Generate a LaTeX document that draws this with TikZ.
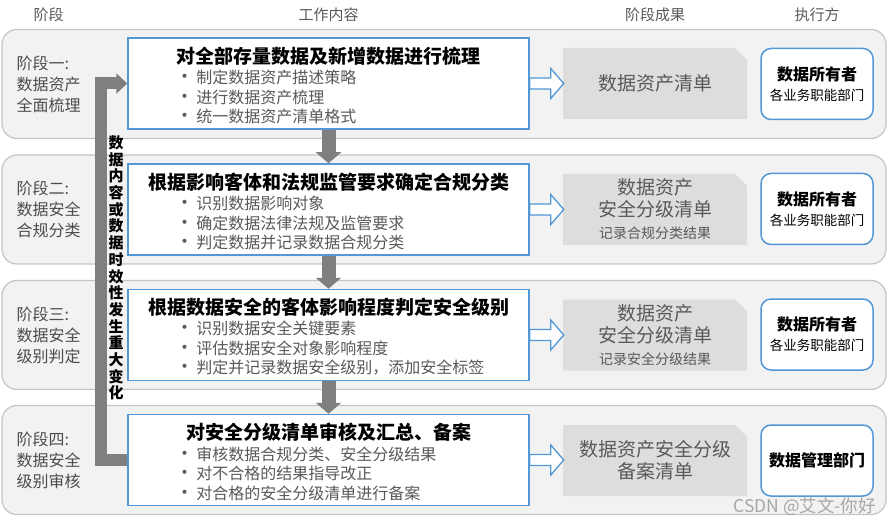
\documentclass[tikz,border=0pt]{standalone}
\usepackage{fontspec}
\setmainfont{Noto Sans CJK SC}
\usetikzlibrary{arrows.meta,calc}
\definecolor{bandfill}{HTML}{F2F2F2}
\definecolor{bandline}{HTML}{C4C4C4}
\definecolor{boxblue}{HTML}{5297D6}
\definecolor{resfill}{HTML}{DDDDDD}
\definecolor{txtgray}{HTML}{595959}
\definecolor{arrgray}{HTML}{7F7F7F}
\newcommand{\itemdot}{\makebox[21pt][l]{\fontsize{19}{19.5}\selectfont•}}
\begin{document}
\begin{tikzpicture}[x=1pt,y=-1pt,
  band/.style={draw=bandline, line width=1.2pt, fill=bandfill, rounded corners=15pt,
    minimum width=884pt, minimum height=109pt, inner sep=0pt},
  workbox/.style={draw=boxblue, line width=1.5pt, fill=white,
    minimum width=401pt, minimum height=91pt, inner sep=0pt},
  resbox/.style={minimum width=184pt, minimum height=71pt, inner sep=0pt, align=center,
    text=txtgray, font=\fontsize{19}{22}\selectfont,
    path picture={\fill[resfill] (path picture bounding box.south west)
      -- (path picture bounding box.north west)
      -- ([xshift=-12pt]path picture bounding box.north east)
      -- ([yshift=-12pt]path picture bounding box.north east)
      -- (path picture bounding box.south east) -- cycle;}},
  execbox/.style={draw=boxblue, line width=1.5pt, fill=white, rounded corners=10pt,
    minimum width=112pt, minimum height=71pt, inner sep=0pt, align=center,
    font=\fontsize{16}{20}\selectfont},
  head/.style={text=txtgray, font=\fontsize{15}{18}\selectfont},
  stage/.style={anchor=west, align=left, inner sep=0pt, text=black!70,
    font=\fontsize{16}{21}\selectfont},
  title/.style={font=\fontsize{19}{22}\selectfont\bfseries, inner sep=0pt},
  bullets/.style={anchor=west, align=left, inner sep=0pt, text=txtgray,
    font=\fontsize{16}{19.5}\selectfont},
  hollow/.style={draw=boxblue, line width=1.3pt, fill=white, line join=miter},
  down/.style={draw=arrgray, line width=14pt, -{Triangle[width=25pt,length=11pt]}},
  fback/.style={draw=arrgray, line width=12pt, -{Triangle[width=20pt,length=11pt]}},
  vtext/.style={align=center, inner sep=0pt, font=\fontsize{15}{16.7}\selectfont\bfseries},
  wmark/.style={anchor=east, inner sep=0pt, text=black!35, font=\fontsize{17.5}{20}\selectfont}]
\useasboundingbox (0,0) rectangle (890,526);
% row bands
\node[band] (b1) at (444,84) {};
\node[band] (b2) at (444,209.5) {};
\node[band] (b3) at (444,335) {};
\node[band] (b4) at (444,460) {};
% stage labels
\node[stage] (s1) at ($(b1.west)+(15,0)$) {阶段一:\\数据资产\\全面梳理};
\node[stage] (s2) at ($(b2.west)+(15,0)$) {阶段二:\\数据安全\\合规分类};
\node[stage] (s3) at ($(b3.west)+(15,0)$) {阶段三:\\数据安全\\级别判定};
\node[stage] (s4) at ($(b4.west)+(15,0)$) {阶段四:\\数据安全\\级别审核};
% work content
\node[workbox] (w1) at (328.5,83.5) {};
\node[workbox] (w2) at (328.5,209.5) {};
\node[workbox] (w3) at (328.5,335) {};
\node[workbox] (w4) at (328.5,460) {};
\node[title] (t1) at ($(w1.center)+(0,-27.5)$) {对全部存量数据及新增数据进行梳理};
\node[title] (t2) at ($(w2.center)+(0,-27.5)$) {根据影响客体和法规监管要求确定合规分类};
\node[title] (t3) at ($(w3.center)+(0,-27.5)$) {根据数据安全的客体影响程度判定安全级别};
\node[title] (t4) at ($(w4.center)+(0,-27.5)$) {对安全分级清单审核及汇总、备案};
\node[bullets] (l1) at ($(w1.west)+(48,13.5)$) {\itemdot 制定数据资产描述策略\\\itemdot 进行数据资产梳理\\\itemdot 统一数据资产清单格式};
\node[bullets] (l2) at ($(w2.west)+(48,13.5)$) {\itemdot 识别数据影响对象\\\itemdot 确定数据法律法规及监管要求\\\itemdot 判定数据并记录数据合规分类};
\node[bullets] (l3) at ($(w3.west)+(48,13.5)$) {\itemdot 识别数据安全关键要素\\\itemdot 评估数据安全对象影响程度\\\itemdot 判定并记录数据安全级别，添加安全标签};
\node[bullets] (l4) at ($(w4.west)+(48,13.5)$) {\itemdot 审核数据合规分类、安全分级结果\\\itemdot 对不合格的结果指导改正\\\itemdot 对合格的安全分级清单进行备案};
% stage results
\node[resbox] (r1) at (655,83.5) {数据资产清单};
\node[resbox] (r2) at (655,209.5) {数据资产\\安全分级清单\\{\fontsize{14}{22}\selectfont 记录合规分类结果}};
\node[resbox] (r3) at (655,335) {数据资产\\安全分级清单\\{\fontsize{14}{22}\selectfont 记录安全分级结果}};
\node[resbox] (r4) at (655,460.5) {数据资产安全分级\\备案清单};
% executors
\node[execbox] (e1) at (817,84) {{\bfseries 数据所有者}\\{\fontsize{13.5}{20}\selectfont 各业务职能部门}};
\node[execbox] (e2) at (817,209) {{\bfseries 数据所有者}\\{\fontsize{13.5}{20}\selectfont 各业务职能部门}};
\node[execbox] (e3) at (817,334.5) {{\bfseries 数据所有者}\\{\fontsize{13.5}{20}\selectfont 各业务职能部门}};
\node[execbox] (e4) at (817,460.5) {\bfseries 数据管理部门};
% column heads
\node[head] (h1) at (s1 |- 0,15) {阶段};
\node[head] (h2) at (w1 |- 0,15) {工作内容};
\node[head] (h3) at (r1 |- 0,15) {阶段成果};
\node[head] (h4) at (e1 |- 0,15) {执行方};
% arrows
\foreach \i in {1,...,4}
  \draw[hollow] (w\i.east) ++(0,-5.5) -- ++(21,0) -- ++(0,-9.5) -- ++(13,15)
    -- ++(-13,15) -- ++(0,-9.5) -- ++(-21,0) -- cycle;
\foreach \a/\b in {w1/w2,w2/w3,w3/w4}
  \draw[down] (\a.south) -- (\b.north);
\draw[fback] (w4.west) -- ++(-26,0) |- (w1.west);
\node[vtext] (vt) at (116,268) {数\\据\\内\\容\\或\\数\\据\\时\\效\\性\\发\\生\\重\\大\\变\\化};
\node[wmark] (wm) at (876,507) {CSDN @艾文-你好};
\end{tikzpicture}
\end{document}
